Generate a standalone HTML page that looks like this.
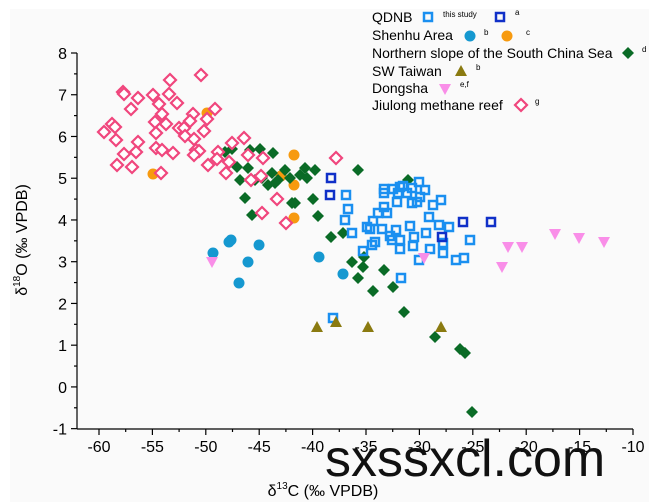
<!DOCTYPE html>
<html><head><meta charset="utf-8"><style>
body{margin:0;background:#fff;width:649px;height:502px;overflow:hidden}
svg{display:block;font-family:"Liberation Sans",sans-serif}
</style></head><body>
<svg id="s" width="649" height="502" viewBox="0 0 649 502">
<rect x="10" y="9" width="639" height="493" fill="#fafafa"/>
<g id="ax" stroke="#000" stroke-width="1.2"></g>
<g id="pts"></g>
<g font-size="14" fill="#000">
<text x="372" y="22">QDNB</text><text x="443" y="17" font-size="8">this study</text><text x="515" y="15" font-size="8">a</text>
<text x="372" y="40">Shenhu Area</text><text x="484" y="35" font-size="8">b</text><text x="526" y="35" font-size="8">c</text>
<text x="372" y="58">Northern slope of the South China Sea</text><text x="642" y="52" font-size="8">d</text>
<text x="372" y="76">SW Taiwan</text><text x="476" y="70" font-size="8">b</text>
<text x="372" y="93">Dongsha</text><text x="460" y="87" font-size="8">e,f</text>
<text x="372" y="110">Jiulong methane reef</text><text x="535" y="104" font-size="8">g</text>
</g>
<g font-size="16" text-anchor="end" id="yl"></g>
<g font-size="16" text-anchor="middle" id="xl"></g>
<text x="323" y="496" font-size="16" text-anchor="middle">δ<tspan font-size="10" dy="-7">13</tspan><tspan dy="7">C (‰ VPDB)</tspan></text>
<text transform="translate(27,240) rotate(-90)" font-size="16" text-anchor="middle">δ<tspan font-size="10" dy="-7">18</tspan><tspan dy="7">O (‰ VPDB)</tspan></text>
<text x="325" y="476" font-size="52" fill="#111">sxssxcl.com</text>
</svg>
<script>
var NS="http://www.w3.org/2000/svg";
function el(p,t,a,txt){var e=document.createElementNS(NS,t);for(var k in a)e.setAttribute(k,a[k]);if(txt!=null)e.textContent=txt;document.getElementById(p).appendChild(e);}
var X=function(v){return 99+(v+60)*10.68},Y=function(v){return 53+(8-v)*41.74};
el("ax","line",{x1:77,y1:53,x2:77,y2:429});
el("ax","line",{x1:77,y1:429,x2:633,y2:429});
for(var v=-1;v<=8;v+=0.5){var y=Y(v),maj=v%1==0;el("ax","line",{x1:maj?71:74,y1:y,x2:77,y2:y});if(maj)el("yl","text",{x:67,y:y+6},String(v));}
for(var v=-60;v<=-10;v+=2.5){var x=X(v),maj=v%5==0;el("ax","line",{x1:x,y1:429,x2:x,y2:maj?435:432});if(maj)el("xl","text",{x:x,y:452},String(v));}
function sq(x,y,c){el("pts","rect",{x:x-4,y:y-4,width:8,height:8,fill:"none",stroke:c,"stroke-width":2.5});}
function dm(x,y,c,f){el("pts","polygon",{points:(x)+","+(y-6)+" "+(x+6)+","+y+" "+x+","+(y+6)+" "+(x-6)+","+y,fill:f?c:"#fff",stroke:c,"stroke-width":f?0:2.2});}
function ci(x,y,c){el("pts","circle",{cx:x,cy:y,r:5.5,fill:c});}
function tu(x,y,c){el("pts","polygon",{points:x+","+(y-6)+" "+(x+6)+","+(y+5)+" "+(x-6)+","+(y+5),fill:c});}
function td(x,y,c){el("pts","polygon",{points:(x-6)+","+(y-5)+" "+(x+6)+","+(y-5)+" "+x+","+(y+6),fill:c});}
var G="#0a6b26",P="#f0467d",LB="#1a8ff0",DB="#1030c8",OR="#f79a0f",BC="#1598d0",OL="#8a7a10",PK="#f98ee8";
[[153,174],[207,113],[281,176],[294,155],[294,185],[294,218]].forEach(function(p){ci(p[0],p[1],OR)});
[[213,253],[229,242],[231,240],[248,262],[259,245],[239,283],[319,257],[343,274]].forEach(function(p){ci(p[0],p[1],BC)});
[[225,152],[232,149],[250,150],[260,149],[273,153],[237,167],[248,168],[272,173],[278,180],[285,170],[290,178],[245,198],[252,215],[292,203],[240,180],[255,180],[262,178],[268,185],[275,183],[300,175],[305,168],[315,170],[307,178],[358,170],[408,180],[313,199],[295,203],[318,216],[331,237],[343,233],[364,257],[352,262],[363,267],[384,270],[358,278],[393,287],[373,291],[404,312],[435,337],[460,349],[465,353],[472,412]].forEach(function(p){dm(p[0],p[1],G,1)});
[[201,75],[170,80],[123,92],[124,94],[138,98],[153,95],[169,94],[159,104],[177,103],[131,109],[215,109],[162,114],[193,114],[207,119],[155,122],[166,124],[190,121],[112,124],[115,127],[104,132],[179,128],[184,128],[204,131],[156,133],[185,136],[194,139],[116,140],[138,142],[232,143],[244,138],[156,148],[162,150],[173,153],[136,152],[124,154],[196,150],[199,151],[194,155],[218,152],[248,155],[217,159],[208,165],[229,162],[263,158],[117,165],[132,167],[161,173],[226,173],[261,176],[251,180],[277,199],[262,213],[286,223],[336,158]].forEach(function(p){dm(p[0],p[1],P,0)});
[[346,195],[348,209],[345,220],[352,233],[363,251],[384,189],[384,193],[393,189],[400,187],[419,182],[398,193],[407,193],[397,202],[412,203],[420,197],[417,202],[441,200],[433,205],[384,207],[387,213],[378,213],[429,217],[439,225],[449,227],[367,227],[373,221],[382,229],[370,229],[396,230],[410,226],[392,240],[400,240],[414,237],[426,233],[375,242],[372,245],[400,249],[413,246],[443,243],[430,249],[443,253],[419,260],[456,260],[464,258],[401,278],[333,318],[403,186],[425,190],[412,188],[390,236],[470,240]].forEach(function(p){sq(p[0],p[1],LB)});
[[331,178],[330,195],[463,222],[442,237],[491,222]].forEach(function(p){sq(p[0],p[1],DB)});
[[317,327],[336,322],[368,327],[441,327]].forEach(function(p){tu(p[0],p[1],OL)});
[[212,262],[502,267],[508,247],[522,247],[555,234],[579,238],[604,242],[424,258]].forEach(function(p){td(p[0],p[1],PK)});
sq(428,17,LB);sq(500,17,DB);ci(470,36,BC);ci(507,36,OR);dm(628,53,G,1);tu(461,71,OL);td(445,89,PK);dm(521,105,P,0);
</script>
</body></html>
